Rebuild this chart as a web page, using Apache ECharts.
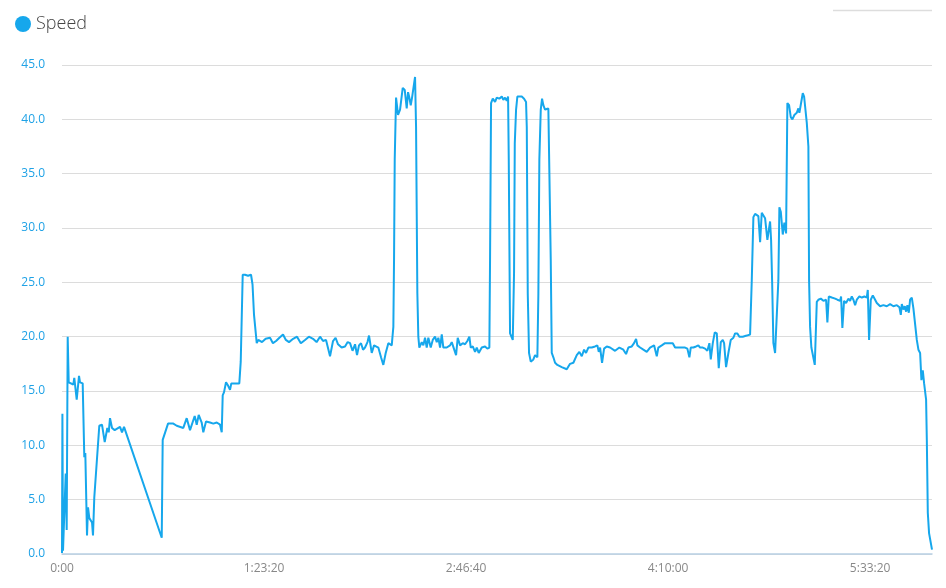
<!DOCTYPE html>
<html>
<head>
<meta charset="utf-8">
<script src="https://cdn.jsdelivr.net/npm/echarts@6/dist/echarts.min.js"></script>
<style>html,body{margin:0;padding:0;background:#fff;}#c{width:946px;height:588px;}</style>
</head>
<body>
<div id="c"></div>
<script>
// elapsed time in seconds
const times = [
0,10,25,57,92,116,141,166,280,304,364,421,446,512,552,577,619,644,676,743,767,799,923,990,1057,1121,1156,1188,1238,1304,1436,1485,1535,
2468,2492,2624,2755,2789,2839,3002,3086,3168,3284,3334,3383,3457,3497,3564,3663,3745,3829,3911,3953,3977,4010,4059,4109,4158,4190,4257,4388,4423,4455,
4472,4529,4604,4678,4715,4752,4819,4858,4950,5040,5148,5220,5297,5380,5470,5540,5618,5720,5816,5910,6014,6110,6212,6300,6386,6460,6534,6633,6707,6770,6831,6920,7004,7070,7128,7190,7252,7301,7350,7400,7450,7499,7560,7598,
7665,7722,7828,7895,7952,8011,8076,8160,8200,8217,8234,8267,8316,8366,8432,8482,8531,8564,8596,8630,8663,8712,8737,8762,8794,8818,8843,8903,8942,
8984,9026,9066,9125,9175,9232,9274,9314,9356,9398,9437,9521,9603,9645,9685,9752,9793,9851,9917,9974,10031,10081,10115,10165,10222,10264,10313,
10388,10427,10469,10526,10576,10593,10618,10660,10717,10759,10823,10883,10922,10964,11006,11039,11056,11088,11155,11187,11205,11237,11269,11378,
11435,11484,11502,11526,11558,11600,11665,11707,11764,11789,11813,11848,11880,11912,11954,11979,12036,12061,12095,12120,12160,12202,12259,12367,
12491,12573,12655,12739,12803,12863,12920,12969,13026,13110,13192,13249,13283,13316,13365,13415,13481,13563,13687,13793,13892,13959,14016,14100,
14157,14207,14239,14306,14387,14471,14553,14652,14719,14758,14842,14924,15006,15115,15172,15253,15337,15419,15476,15526,15560,15624,15692,15748,
15791,15857,15914,15971,16021,16055,16105,16154,16204,16253,16303,16352,16385,16434,16491,16550,16615,16657,16714,16763,16847,16946,17028,17070,
17110,17152,17233,17276,17317,17399,17456,17523,17548,17573,17605,17647,17688,17728,17753,17788,17837,17877,17919,17951,17993,18035,18075,18124,
18183,18223,18248,18290,18332,18365,18431,18471,18488,18513,18545,18580,18629,18679,18718,18778,18842,18909,18941,18976,19050,19132,19189,19256,
19280,19312,19354,19404,19461,19503,19545,19585,19627,19669,19733,19793,19857,19916,19941,19973,20015,20065,20122,20164,20203,20246,20327,20411,
20493,20575,20659,20724,20758,20783,20822,20857,20889,20921,20956,20988,21030,21070,21112,21154,21194,21236,21268,21302,21335,21384,21402,21426,
21458,21530
];
// speed values
const speeds = [
0.1,12.9,0.3,0.2,7.4,2.2,20.0,15.8,15.6,16.2,14.2,16.4,15.8,15.7,8.9,9.3,1.7,4.3,3.3,2.9,1.7,5.2,11.8,11.9,10.3,11.6,11.2,12.5,11.6,11.4,11.7,11.2,11.7,
1.5,10.5,12.0,12.0,12.1,11.8,11.6,12.5,11.4,12.7,11.9,12.8,12.1,11.2,12.2,12.1,12.0,12.1,11.9,11.2,14.6,14.9,15.8,15.5,15.1,15.7,15.7,15.7,17.7,17.7,
25.7,25.7,25.6,25.7,24.8,22.0,19.4,19.7,19.5,19.8,19.9,19.4,19.6,19.9,20.2,19.7,19.5,19.8,20.0,19.4,19.7,20.0,19.8,19.5,20.0,19.6,19.7,18.2,19.6,19.9,19.3,19.0,19.1,19.5,19.4,18.7,19.3,18.3,19.2,19.4,18.8,19.0,19.5,20.1,
18.5,19.2,19.0,18.1,17.4,18.5,19.4,19.2,20.9,27.1,36.3,42.0,40.4,40.9,42.9,42.7,41.0,42.5,42.0,41.3,42.0,42.1,43.9,39.3,24.0,20.0,19.0,19.5,19.2,
19.9,19.0,19.9,19.0,19.7,20.0,19.5,19.9,19.0,20.2,19.0,19.0,19.2,19.5,19.4,18.3,19.9,19.2,19.4,19.3,19.6,20.0,19.0,19.1,18.6,19.0,18.5,
19.0,18.9,19.1,18.9,19.0,27.1,41.5,41.9,41.6,42.0,41.9,42.1,41.8,42.0,41.7,42.1,36.3,20.3,19.7,25.9,37.8,40.9,42.1,42.1,
41.9,41.6,39.3,24.0,18.5,17.7,17.9,18.3,18.1,24.0,36.3,40.9,41.9,41.3,40.9,41.0,41.0,40.9,27.1,18.5,18.1,17.6,17.4,17.2,
17.0,17.5,17.6,18.3,18.6,18.2,18.8,18.5,19.0,19.0,19.1,19.2,18.6,19.0,17.6,18.9,19.1,19.0,18.7,19.0,18.8,18.4,19.0,19.1,
19.4,19.8,19.2,19.0,18.8,18.6,19.0,19.2,18.2,19.0,19.2,19.4,19.4,19.4,19.0,19.0,19.0,19.0,18.9,18.1,19.0,19.0,19.1,19.2,
19.0,19.0,18.9,18.7,19.4,17.9,19.4,20.4,20.3,17.1,19.5,19.7,19.4,17.2,18.5,19.7,19.9,20.3,20.3,20.0,20.0,20.1,20.2,25.2,
31.0,31.3,31.1,28.7,31.4,30.9,28.9,30.6,28.9,25.2,19.4,18.5,18.5,25.2,31.9,31.5,29.4,30.5,29.5,41.5,41.3,40.2,40.0,40.4,
40.6,41.0,40.6,41.5,42.4,42.1,39.7,37.5,25.2,20.9,19.0,19.0,17.4,23.2,23.4,23.5,23.3,23.4,21.3,23.7,23.6,23.5,23.4,23.3,
23.7,20.8,23.3,23.1,23.5,23.3,23.7,23.4,22.9,23.4,23.7,23.6,23.7,23.6,24.3,19.7,23.4,23.8,23.4,23.1,23.1,22.8,22.9,22.8,
23.0,22.8,22.9,22.7,22.0,23.0,22.5,22.8,22.3,22.9,22.2,23.4,23.6,22.6,22.5,19.7,18.8,18.5,16.0,16.9,15.7,14.2,10.5,3.8,
1.9,0.4
];
const seriesName = 'Speed';
const xTickStep = 5000;
const yTicks = [0, 45, 5];

const data = times.map((t, i) => [t, speeds[i]]);

function fmtTime(v) {
  if (v === 0) return '0:00';
  const h = Math.floor(v / 3600);
  const m = Math.floor((v % 3600) / 60);
  const s = Math.round(v % 60);
  return h + ':' + String(m).padStart(2, '0') + ':' + String(s).padStart(2, '0');
}

const chart = echarts.init(document.getElementById('c'), null, { renderer: 'canvas' });
chart.setOption({
  animation: false,
  backgroundColor: '#ffffff',
  legend: {
    left: 10, top: 10,
    icon: 'circle',
    itemWidth: 16, itemHeight: 16, itemGap: 6,
    textStyle: { fontFamily: 'Open Sans', fontSize: 18, fontWeight: 300, color: '#444' },
    data: [seriesName]
  },
  graphic: [{
    type: 'line', shape: { x1: 833, y1: 10.5, x2: 932, y2: 10.5 },
    style: { stroke: '#dddddd', lineWidth: 1.5 }
  }],
  grid: { left: 62, right: 14, top: 65, bottom: 34, containLabel: false },
  xAxis: {
    type: 'value', min: 0, max: 'dataMax', interval: xTickStep,
    axisLine: { show: true, lineStyle: { color: '#b8cfe3', width: 1.5 } },
    axisTick: { show: false },
    splitLine: { show: false },
    axisLabel: { formatter: fmtTime, color: '#888', fontFamily: 'Open Sans', fontSize: 12, margin: 9, showMaxLabel: false }
  },
  yAxis: {
    type: 'value', min: yTicks[0], max: yTicks[1], interval: yTicks[2],
    axisLine: { show: false },
    axisTick: { show: false },
    splitLine: { lineStyle: { color: '#dcdcdc', width: 1 } },
    axisLabel: { formatter: v => v.toFixed(1), color: '#1fa2e6', fontFamily: 'Open Sans', fontSize: 12, margin: 17 }
  },
  series: [{
    name: seriesName, type: 'line', data: data,
    showSymbol: false, symbol: 'circle',
    itemStyle: { color: '#16a7ec' },
    lineStyle: { color: '#16a7ec', width: 2 }
  }]
});
</script>
</body>
</html>
